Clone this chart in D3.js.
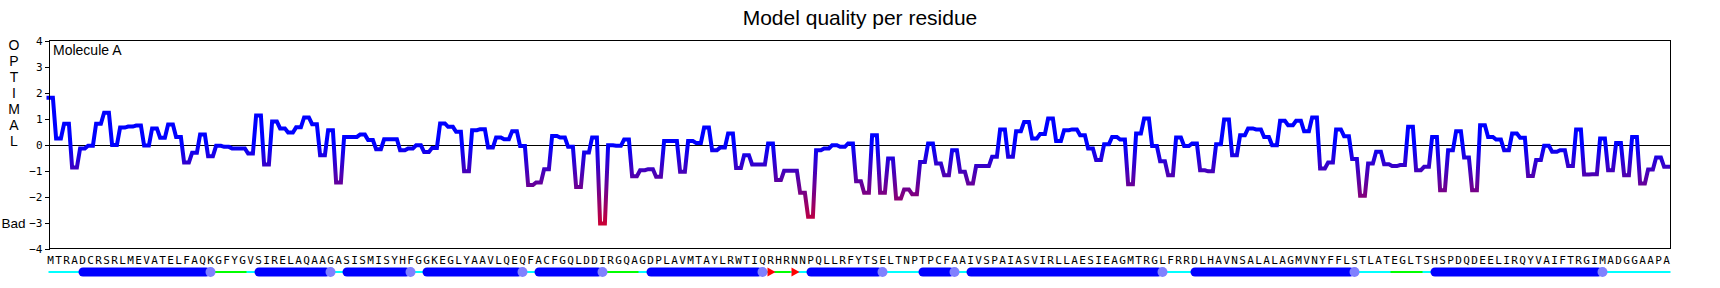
<html>
<head>
    <meta charset="utf-8">
    <title>Model quality per residue</title>
    <script src="https://d3js.org/d3.v7.min.js"></script>
    <style>
        body{
            margin: 0;
            background: #fff;
        }
        .tick text{
            font-family: "DejaVu Sans Mono", monospace;
            font-size: 11px;
            fill: #000;
        }
        .seq{
            font-family: "DejaVu Sans Mono", monospace;
            font-size: 11px;
        }
        .lbl{
            font-family: "Liberation Sans", Arial, sans-serif;
        }
    </style>
</head>
<body>
<svg id="chart" width="1720" height="288"></svg>
<script>

    // residue sequence of molecule A
    var sequence = ("MTRADCRSRLMEVATELFAQKGFYGVSIRELAQAAGASISMISYHFGGKEGLYAAVLQEQFACFGQLDDI" +
                    "RGQAGDPLAVMTAYLRWTIQRHRNNPQLLRFYTSELTNPTPCFAAIVSPAIASVIRLLAESIEAGMTRGL" +
                    "FRRDLHAVNSALALAGMVNYFFLSTLATEGLTSHSPDQDEELIRQYVAIFTRGIMADGGAAPA").split('');

    // per residue quality score
    var scores = [
        1.8, 0.23, 0.8, -0.88, -0.15, -0.05, 0.8, 1.22, -0.02, 0.65,
        0.69, 0.73, -0.04, 0.62, 0.26, 0.77, 0.29, -0.69, -0.32, 0.38,
        -0.45, -0.05, -0.09, -0.15, -0.15, -0.35, 1.12, -0.77, 0.88, 0.62,
        0.46, 0.66, 1.04, 0.78, -0.41, 0.55, -1.46, 0.29, 0.29, 0.38,
        0.17, -0.18, 0.2, 0.2, -0.22, -0.15, -0.03, -0.29, -0.13, 0.81,
        0.68, 0.49, -1.03, 0.55, 0.59, -0.12, 0.27, 0.2, 0.51, -0.06,
        -1.56, -1.46, -0.95, 0.33, 0.27, -0.09, -1.63, -0.31, 0.27, -3.04,
        -0.03, -0.05, 0.19, -1.22, -0.99, -0.95, -1.24, 0.13, 0.13, -1.05,
        0.13, 0.06, 0.65, -0.22, -0.12, 0.42, -0.9, -0.41, -0.77, -0.77,
        0.04, -1.37, -1.01, -1.01, -1.86, -2.78, -0.22, -0.15, -0.03, -0.09,
        0.04, -1.41, -1.86, 0.36, -1.86, -0.54, -2.08, -1.73, -1.91, -0.67,
        0.04, -0.73, -1.18, -0.22, -1.05, -1.5, -0.83, -0.83, -0.47, 0.58,
        -0.47, 0.51, 0.87, 0.23, 0.4, 1.0, 0.13, 0.55, 0.58, 0.36,
        -0.15, -0.6, 0.01, 0.29, 0.19, -1.53, 0.42, 1.0, -0.06, -0.64,
        -1.18, 0.27, -0.06, 0.04, -0.99, -1.03, 0.01, 0.96, -0.41, 0.36,
        0.62, 0.58, 0.29, -0.03, 0.91, 0.74, 0.91, 0.51, 1.04, -0.92,
        -0.69, 0.58, 0.32, -0.56, -1.97, -0.73, -0.28, -0.76, -0.83, -0.79,
        0.68, -0.99, -0.86, 0.29, -1.76, -0.22, 0.51, -0.5, -1.76, 0.74,
        0.29, 0.19, -0.22, 0.42, 0.26, -1.21, -0.6, -0.05, -0.28, -0.22,
        -0.83, 0.58, -1.15, -1.14, 0.23, -0.99, 0.06, -1.18, 0.29, -1.5,
        -0.96, -0.5, -0.86
    ];

    var yTicks = [-4, -3, -2, -1, 0, 1, 2, 3, 4];
    var sideLetters = ['O', 'P', 'T', 'I', 'M', 'A', 'L'];

    // secondary structure, residue numbers
    var helixStart = [5, 27, 38, 48, 62, 76, 96, 110, 116, 144, 174];
    var helixEnd   = [21, 36, 46, 60, 70, 90, 105, 114, 140, 164, 195];
    var turnStart  = [22, 71, 92, 169];
    var turnEnd    = [25, 74, 93, 172];
    var strandArrows = [91, 94];

    var svg = d3.select('#chart');
    var plotLeft = 49, plotRight = 1671, plotTop = 40.5, plotBottom = 248.5;
    var ssY = 272;

    var x = d3.scaleLinear().domain([1, sequence.length]).range([50.5, 1666.5]);
    var y = d3.scaleLinear().domain([-4, 4]).range([plotBottom, plotTop]);

    // colour follows height: blue up top, crimson near the bottom
    var grad = svg.append('defs').append('linearGradient')
        .attr('id', 'qgrad')
        .attr('gradientUnits', 'userSpaceOnUse')
        .attr('x1', 0).attr('x2', 0)
        .attr('y1', y(0)).attr('y2', y(-3.1));
    grad.append('stop').attr('offset', 0).attr('stop-color', '#0000ff');
    grad.append('stop').attr('offset', 1).attr('stop-color', '#cc0033');

    svg.append('text').attr('class', 'lbl')
        .attr('x', 860).attr('y', 25)
        .attr('text-anchor', 'middle')
        .style('font-size', '21px')
        .text('Model quality per residue');

    svg.selectAll('.side').data(sideLetters).enter().append('text')
        .attr('class', 'lbl side')
        .attr('x', 14)
        .attr('y', function(d, i){ return 49.5 + i * 16.1; })
        .attr('text-anchor', 'middle')
        .style('font-size', '14px')
        .text(function(d){ return d; });

    svg.append('text').attr('class', 'lbl')
        .attr('x', 1.5).attr('y', 228)
        .style('font-size', '13.5px')
        .text('Bad');

    var yAxis = d3.axisLeft(y).tickValues(yTicks).tickSize(5).tickPadding(2);
    var ag = svg.append('g')
        .attr('transform', 'translate(' + (plotLeft + 0.5) + ',0)')
        .call(yAxis);
    ag.select('.domain').remove();
    ag.selectAll('line').attr('shape-rendering', 'crispEdges');

    svg.append('line')
        .attr('x1', plotLeft).attr('x2', plotRight)
        .attr('y1', Math.round(y(0)) + 0.5).attr('y2', Math.round(y(0)) + 0.5)
        .attr('stroke', '#000').attr('stroke-width', 1);

    // each residue is a short plateau, neighbours joined by steep ramps
    var pts = [];
    scores.forEach(function(v, k){
        var i = k + 1;
        var a = (k == 0) ? i - 0.5 : i - 0.3;
        var b = (k == scores.length - 1) ? i + 0.5 : i + 0.3;
        pts.push([a, v]);
        pts.push([b, v]);
    });
    var line = d3.line()
        .x(function(d){ return x(d[0]); })
        .y(function(d){ return y(d[1]); });
    svg.append('path')
        .attr('d', line(pts))
        .attr('fill', 'none')
        .attr('stroke', 'url(#qgrad)')
        .attr('stroke-width', 4)
        .attr('stroke-linejoin', 'miter');

    svg.append('rect')
        .attr('x', plotLeft + 0.5).attr('y', plotTop)
        .attr('width', plotRight - plotLeft - 1).attr('height', plotBottom - plotTop)
        .attr('fill', 'none').attr('stroke', '#000').attr('stroke-width', 1)
        .attr('shape-rendering', 'crispEdges');

    svg.append('text').attr('class', 'lbl')
        .attr('x', 53).attr('y', 55)
        .style('font-size', '14px')
        .text('Molecule A');

    svg.selectAll('.seq').data(sequence).enter().append('text')
        .attr('class', 'seq')
        .attr('x', function(d, i){ return x(i + 1); })
        .attr('y', 263.5)
        .attr('text-anchor', 'middle')
        .text(function(d){ return d; });

    // secondary structure track
    svg.append('line')
        .attr('x1', x(1) - 2).attr('x2', x(sequence.length) + 4)
        .attr('y1', ssY).attr('y2', ssY)
        .attr('stroke', '#00ffff').attr('stroke-width', 2);

    turnStart.forEach(function(s, k){
        svg.append('line')
            .attr('x1', x(s) - 4).attr('x2', x(turnEnd[k]) + 4)
            .attr('y1', ssY).attr('y2', ssY)
            .attr('stroke', '#00ff00').attr('stroke-width', 2);
    });

    helixStart.forEach(function(s, k){
        var e = helixEnd[k];
        svg.append('rect')
            .attr('x', x(s) - 4).attr('y', ssY - 4.5)
            .attr('width', x(e) - x(s) + 4).attr('height', 9)
            .attr('rx', 4.5)
            .attr('fill', '#0000ff');
        svg.append('circle')
            .attr('cx', x(e)).attr('cy', ssY).attr('r', 5)
            .attr('fill', '#8080ff');
    });

    strandArrows.forEach(function(i){
        var cx = x(i);
        svg.append('path')
            .attr('d', 'M' + (cx - 3) + ',' + (ssY - 4.5) + 'L' + (cx + 5) + ',' + ssY + 'L' + (cx - 3) + ',' + (ssY + 4.5) + 'Z')
            .attr('fill', '#ff0000');
    });

</script>
</body>
</html>
